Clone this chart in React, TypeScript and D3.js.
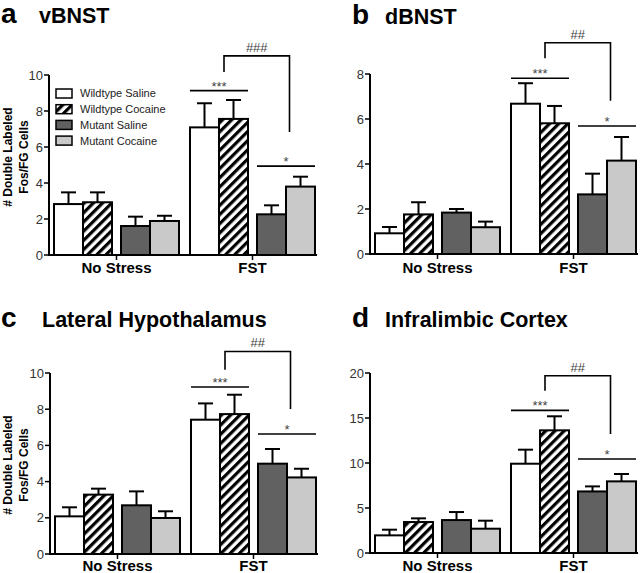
import React from "react";
import * as d3 from "d3";

const groups = ["No Stress", "FST"];
const genotypes = ["Wildtype", "Mutant"];
const treatments = ["Saline", "Cocaine"];
const seriesLabels = ["Wildtype Saline", "Wildtype Cocaine", "Mutant Saline", "Mutant Cocaine"];

// values ordered: No Stress [WS, WC, MS, MC], FST [WS, WC, MS, MC]
const vbnstMean = [2.83, 2.93, 1.61, 1.89, 7.09, 7.56, 2.26, 3.8];
const vbnstSem = [0.65, 0.55, 0.52, 0.29, 1.34, 1.05, 0.5, 0.55];
const dbnstMean = [0.92, 1.76, 1.84, 1.19, 6.68, 5.81, 2.65, 4.15];
const dbnstSem = [0.28, 0.54, 0.16, 0.25, 0.91, 0.77, 0.92, 1.05];
const lhMean = [2.08, 3.28, 2.69, 1.99, 7.42, 7.73, 4.99, 4.23];
const lhSem = [0.5, 0.33, 0.77, 0.37, 0.9, 1.07, 0.81, 0.48];
const ilMean = [1.96, 3.44, 3.66, 2.7, 9.92, 13.63, 6.84, 7.96];
const ilSem = [0.63, 0.41, 0.89, 0.89, 1.56, 1.56, 0.56, 0.82];

// significance annotations: [wildtype line, bracket top, bracket left end, bracket right end, mutant line]
const vbnstSig = [9.13, 11.06, 10.17, 6.83, 4.94];
const dbnstSig = [7.81, 9.39, 8.7, 6.81, 5.69];
const lhSig = [9.23, 11.19, 10.18, 8.01, 6.63];
const ilSig = [15.85, 19.7, 18.03, 13.22, 10.44];
const sigLabelsA = ["***", "###", "*"];
const sigLabelsB = ["***", "##", "*"];

const vbnstTicks = [0, 2, 4, 6, 8, 10];
const dbnstTicks = [0, 2, 4, 6, 8];
const lhTicks = [0, 2, 4, 6, 8, 10];
const ilTicks = [0, 5, 10, 15, 20];

const FONT = "'Liberation Sans', Arial, Helvetica, sans-serif";
const fills = ["#ffffff", "url(#hatch)", "#616161", "#c9c9c9"];

type PanelProps = {
  letter: string;
  title: string;
  titleX: number;
  letterX: number;
  titleY: number;
  x0: number;
  yTop: number;
  yBottom: number;
  yMax: number;
  ticks: number[];
  means: number[];
  sems: number[];
  sig: number[];
  sigLabels: string[];
  yLabel?: number;
  xLabelDy: number;
  legend?: boolean;
};

function Panel(p: PanelProps) {
  const y = d3.scaleLinear().domain([0, p.yMax]).range([p.yBottom, p.yTop]);
  const gx = d3
    .scaleBand<string>()
    .domain(groups)
    .range([p.x0 + 5, p.x0 + 266])
    .paddingInner(0.0809)
    .paddingOuter(0);
  const genx = d3
    .scaleBand<string>()
    .domain(genotypes)
    .range([0, gx.bandwidth()])
    .paddingInner(0.1343)
    .paddingOuter(0);
  const tx = d3.scaleBand<string>().domain(treatments).range([0, genx.bandwidth()]).padding(0);
  const bw = tx.bandwidth();
  const barX = (g: number, s: number) =>
    (gx(groups[g]) as number) + (genx(genotypes[Math.floor(s / 2)]) as number) + (tx(treatments[s % 2]) as number);

  const bars: React.ReactNode[] = [];
  groups.forEach((_, g) => {
    seriesLabels.forEach((_, s) => {
      const i = g * 4 + s;
      const x = barX(g, s);
      const m = p.means[i];
      const top = m + p.sems[i];
      const cx = x + bw / 2;
      bars.push(
        <g key={`b${i}`}>
          <line x1={cx} x2={cx} y1={y(m)} y2={y(top)} stroke="#000" strokeWidth={2} />
          <line x1={cx - 7.5} x2={cx + 7.5} y1={y(top)} y2={y(top)} stroke="#000" strokeWidth={2} />
          <rect x={x} y={y(m)} width={bw} height={y(0) - y(m)} fill={fills[s]} stroke="#000" strokeWidth={2} />
        </g>
      );
    });
  });

  const wtL = barX(1, 0);
  const wtR = barX(1, 1) + bw;
  const muL = barX(1, 2);
  const muR = barX(1, 3) + bw;
  const wtMid = (wtL + wtR) / 2;
  const muMid = (muL + muR) / 2;
  const bl = wtMid + 5;
  const br = muMid + 3.5;
  const [s1, bTop, bLeft, bRight, s2] = p.sig;

  return (
    <g>
      <text x={p.letterX} y={p.titleY} fontFamily={FONT} fontWeight="bold" fontSize={28}>
        {p.letter}
      </text>
      <text x={p.titleX} y={p.titleY} fontFamily={FONT} fontWeight="bold" fontSize={21.5}>
        {p.title}
      </text>
      {p.yLabel !== undefined && (
        <g fontFamily={FONT} fontWeight="bold" fontSize={12} textAnchor="middle">
          <text transform={`translate(12,${p.yLabel}) rotate(-90)`}># Double Labeled</text>
          <text transform={`translate(28,${p.yLabel}) rotate(-90)`}>Fos/FG Cells</text>
        </g>
      )}
      {bars}
      <line x1={p.x0} x2={p.x0} y1={y(0) + 1} y2={p.yTop} stroke="#000" strokeWidth={2} />
      <line x1={p.x0 - 1} x2={p.x0 + 268} y1={y(0)} y2={y(0)} stroke="#000" strokeWidth={2} />
      {p.ticks.map((t) => (
        <g key={t}>
          <line x1={p.x0 - 5} x2={p.x0} y1={y(t)} y2={y(t)} stroke="#000" strokeWidth={1.5} />
          <text
            x={p.x0 - 6}
            y={y(t)}
            dy="0.36em"
            textAnchor="end"
            fontFamily={FONT}
            fontSize={13}
            fill="#333"
          >
            {t}
          </text>
        </g>
      ))}
      {groups.map((g) => {
        const c = (gx(g) as number) + gx.bandwidth() / 2;
        return (
          <g key={g}>
            <line x1={c} x2={c} y1={y(0)} y2={y(0) + 5} stroke="#000" strokeWidth={1.5} />
            <text x={c} y={y(0) + p.xLabelDy} textAnchor="middle" fontFamily={FONT} fontWeight="bold" fontSize={15}>
              {g}
            </text>
          </g>
        );
      })}
      <g stroke="#000" strokeWidth={1.6} fill="none">
        <line x1={wtL} x2={wtR} y1={y(s1)} y2={y(s1)} />
        <path d={`M${bl},${y(bLeft)}V${y(bTop)}H${br}V${y(bRight)}`} />
        <line x1={muL} x2={muR} y1={y(s2)} y2={y(s2)} />
      </g>
      <g fontFamily={FONT} fontSize={13} fill="#444" textAnchor="middle">
        <text x={wtMid} y={y(s1) - 2.5} dy="0.2em">
          {p.sigLabels[0]}
        </text>
        <text x={(bl + br) / 2} y={y(bTop) - 4}>
          {p.sigLabels[1]}
        </text>
        <text x={muMid} y={y(s2) - 2.5} dy="0.2em">
          {p.sigLabels[2]}
        </text>
      </g>
      {p.legend && (
        <g fontFamily={FONT} fontSize={11} fill="#222">
          {seriesLabels.map((l, i) => {
            const ly = p.yTop + 14 + i * 15.7;
            return (
              <g key={l}>
                <rect x={p.x0 + 7} y={ly} width={16} height={9} fill={fills[i]} stroke="#000" strokeWidth={1.5} />
                <text x={p.x0 + 31} y={ly + 4.5} dy="0.36em">
                  {l}
                </text>
              </g>
            );
          })}
        </g>
      )}
    </g>
  );
}

export default function App() {
  return (
    <svg
      width={640}
      height={573}
      style={{ position: "absolute", left: 0, top: 0, background: "#fff" }}
    >
      <defs>
        <pattern id="hatch" patternUnits="userSpaceOnUse" width={6.5} height={6.5} patternTransform="rotate(45)">
          <rect width={6.5} height={6.5} fill="#fff" />
          <line x1={1.6} y1={0} x2={1.6} y2={6.5} stroke="#000" strokeWidth={3.2} />
        </pattern>
      </defs>
      <rect width={640} height={573} fill="#fff" />
      <Panel
        letter="a"
        title="vBNST"
        letterX={1}
        titleX={39}
        titleY={23}
        x0={49}
        yTop={75}
        yBottom={255}
        yMax={10}
        ticks={vbnstTicks}
        means={vbnstMean}
        sems={vbnstSem}
        sig={vbnstSig}
        sigLabels={sigLabelsA}
        yLabel={157}
        xLabelDy={18}
        legend
      />
      <Panel
        letter="b"
        title="dBNST"
        letterX={352}
        titleX={385}
        titleY={24}
        x0={370}
        yTop={74}
        yBottom={254}
        yMax={8}
        ticks={dbnstTicks}
        means={dbnstMean}
        sems={dbnstSem}
        sig={dbnstSig}
        sigLabels={sigLabelsB}
        xLabelDy={19}
      />
      <Panel
        letter="c"
        title="Lateral Hypothalamus"
        letterX={1}
        titleX={42}
        titleY={327}
        x0={50}
        yTop={373}
        yBottom={554}
        yMax={10}
        ticks={lhTicks}
        means={lhMean}
        sems={lhSem}
        sig={lhSig}
        sigLabels={sigLabelsB}
        yLabel={465}
        xLabelDy={16.5}
      />
      <Panel
        letter="d"
        title="Infralimbic Cortex"
        letterX={352}
        titleX={385}
        titleY={327}
        x0={370}
        yTop={373}
        yBottom={553}
        yMax={20}
        ticks={ilTicks}
        means={ilMean}
        sems={ilSem}
        sig={ilSig}
        sigLabels={sigLabelsB}
        xLabelDy={17.5}
      />
    </svg>
  );
}
